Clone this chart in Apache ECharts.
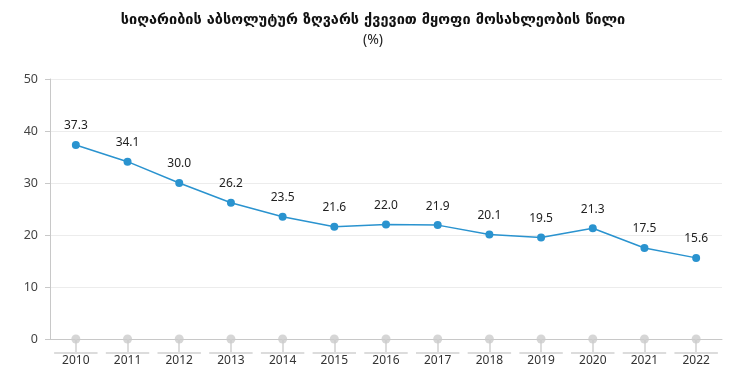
<!DOCTYPE html>
<html><head><meta charset="utf-8">
<script src="https://cdn.jsdelivr.net/npm/echarts@6/dist/echarts.min.js"></script>
<style>html,body{margin:0;padding:0;background:#fff}#c{width:746px;height:383px}</style>
</head><body><div id="c"></div>
<script>
var categories = ['2010','2011','2012','2013','2014','2015','2016','2017','2018','2019','2020','2021','2022'];
var shareValues = [37.3, 34.1, 30.0, 26.2, 23.5, 21.6, 22.0, 21.9, 20.1, 19.5, 21.3, 17.5, 15.6];
var baseValues = [0,0,0,0,0,0,0,0,0,0,0,0,0];
var yTicks = [0, 10, 20, 30, 40, 50];

var chart = echarts.init(document.getElementById('c'));
chart.setOption({
  animation: false,
  title: {
    text: 'სიღარიბის აბსოლუტურ ზღვარს ქვევით მყოფი მოსახლეობის წილი',
    subtext: '(%)',
    left: 'center', top: 8, itemGap: 5,
    textStyle: {fontFamily: 'DejaVu Sans', fontWeight: 'bold', fontSize: 14.5, color: '#111'},
    subtextStyle: {fontFamily: 'Noto Sans', fontSize: 14, color: '#222'}
  },
  grid: {left: 50, right: 24, top: 79, bottom: 44},
  xAxis: {
    type: 'category', data: categories, boundaryGap: true,
    axisLine: {lineStyle: {color: '#c8c8c8', width: 1}},
    axisTick: {show: true, alignWithLabel: true, length: 13, lineStyle: {color: '#dcdcdc', width: 2}},
    axisLabel: {fontFamily: 'Noto Sans', fontSize: 12, color: '#333', margin: 16}
  },
  yAxis: {
    type: 'value', min: yTicks[0], max: yTicks[yTicks.length-1], interval: 10,
    axisLine: {show: true, lineStyle: {color: '#c8c8c8'}},
    axisTick: {show: true, length: 5, lineStyle: {color: '#c8c8c8'}},
    axisLabel: {fontFamily: 'Noto Sans', fontSize: 12.5, color: '#444', margin: 12},
    splitLine: {lineStyle: {color: '#ececec'}}
  },
  series: [
    {
      type: 'custom', silent: true, clip: false, z: 1,
      data: categories.map(function(c, i){ return [i, 0]; }),
      renderItem: function(params, api){
        var p = api.coord([api.value(0), 0]);
        var w = api.size([1, 0])[0];
        return {type: 'line', shape: {x1: p[0]-w*0.42, y1: p[1]+14, x2: p[0]+w*0.42, y2: p[1]+14},
                style: {stroke: '#dcdcdc', lineWidth: 2}};
      }
    },
    {
      type: 'scatter', data: baseValues, symbolSize: 9, z: 3,
      itemStyle: {color: '#cccccc'}, silent: true
    },
    {
      type: 'line', data: shareValues, symbol: 'circle', symbolSize: 8, z: 4,
      lineStyle: {color: '#2a93cf', width: 1.5},
      itemStyle: {color: '#2a93cf'},
      label: {show: true, position: 'top', distance: 9, fontFamily: 'Noto Sans', fontSize: 12, color: '#222',
              formatter: function(p){ return p.value.toFixed(1); }}
    }
  ]
});
</script></body></html>
